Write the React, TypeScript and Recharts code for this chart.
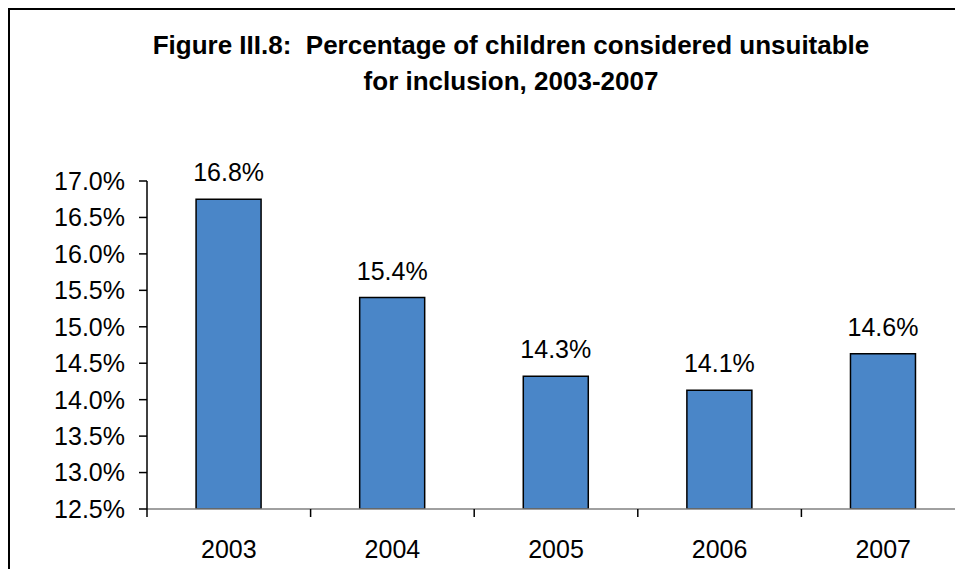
import { BarChart, Bar, XAxis, YAxis, LabelList } from "recharts";

const years = ["2003", "2004", "2005", "2006", "2007"];
const shares = [16.75, 15.4, 14.32, 14.13, 14.63];
const yTicks = [12.5, 13, 13.5, 14, 14.5, 15, 15.5, 16, 16.5, 17];
const titleLines = [
  "Figure III.8:  Percentage of children considered unsuitable",
  "for inclusion, 2003-2007",
];

const FONT = "'Liberation Sans', Arial, sans-serif";
const BAR_BLUE = "#4A86C8";
const CHART_W = 965;
const CHART_H = 569;
const Y_AXIS_W = 147;
const PLOT_TOP = 181;
const X_AXIS_H = 60;
const BAND = (CHART_W - Y_AXIS_W) / years.length;

const data = years.map((year, i) => ({ year, share: shares[i] }));

// category label plus the boundary tick on its left edge
function YearTick(props: any) {
  const { x, y, payload } = props;
  const left = x - BAND / 2;
  return (
    <g>
      <line x1={left} y1={y} x2={left} y2={y + 8} stroke="#000" strokeWidth={1.5} />
      <text
        x={x}
        y={y + 49}
        textAnchor="middle"
        fontSize={25}
        fontFamily={FONT}
        fill="#000"
      >
        {payload.value}
      </text>
    </g>
  );
}

function ValueLabel(props: any) {
  const { x, y, width, value } = props;
  return (
    <text
      x={x + width / 2}
      y={y - 18}
      textAnchor="middle"
      fontSize={25}
      fontFamily={FONT}
      fill="#000"
    >
      {`${Number(value).toFixed(1)}%`}
    </text>
  );
}

export default function App() {
  return (
    <div
      style={{
        position: "relative",
        width: 955,
        height: 569,
        overflow: "hidden",
        background: "#fff",
      }}
    >
      <style>{"html,body{margin:0;padding:0;overflow:hidden;}"}</style>
      {/* frame, only its left and top edges are in view */}
      <div
        style={{
          position: "absolute",
          left: 8,
          top: 8,
          width: 1100,
          height: 700,
          borderLeft: "2px solid #000",
          borderTop: "2px solid #000",
          boxSizing: "border-box",
        }}
      />
      <div
        style={{
          position: "absolute",
          left: 8,
          width: 1006,
          top: 27,
          textAlign: "center",
          fontFamily: FONT,
          fontWeight: "bold",
          fontSize: 26,
          lineHeight: "36px",
          whiteSpace: "pre",
          color: "#000",
        }}
      >
        {titleLines.map((t) => (
          <div key={t}>{t}</div>
        ))}
      </div>
      <div style={{ position: "absolute", left: 0, top: 0 }}>
        <BarChart
          width={CHART_W}
          height={CHART_H}
          data={data}
          margin={{ top: PLOT_TOP, right: 0, left: 0, bottom: 0 }}
          barCategoryGap="30%"
        >
          <XAxis
            dataKey="year"
            height={X_AXIS_H}
            axisLine={{ stroke: "#808080", strokeWidth: 1.5 }}
            tickLine={false}
            tickSize={0}
            tickMargin={0}
            interval={0}
            tick={<YearTick />}
          />
          <YAxis
            width={Y_AXIS_W}
            domain={[12.5, 17]}
            ticks={yTicks}
            interval={0}
            allowDataOverflow
            tickFormatter={(v: number) => `${v.toFixed(1)}%`}
            axisLine={{ stroke: "#000", strokeWidth: 1.5 }}
            tickLine={{ stroke: "#000", strokeWidth: 1.5 }}
            tickSize={8}
            tickMargin={14}
            tick={{ fontSize: 25, fontFamily: FONT, fill: "#000" }}
          />
          <Bar
            dataKey="share"
            fill={BAR_BLUE}
            stroke="#000"
            strokeWidth={1.5}
            isAnimationActive={false}
          >
            <LabelList dataKey="share" content={<ValueLabel />} />
          </Bar>
        </BarChart>
      </div>
    </div>
  );
}
